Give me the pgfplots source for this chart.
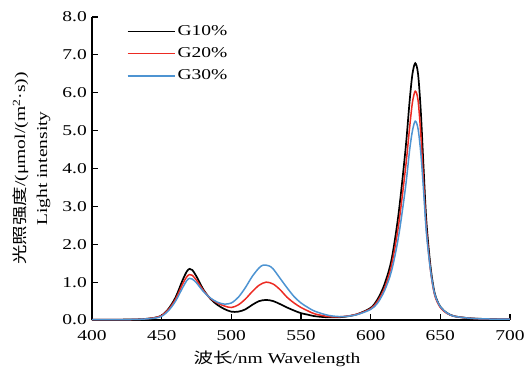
\documentclass[border=0pt]{standalone}
\usepackage{pgfplots}
\pgfplotsset{compat=1.18}
\usepackage{fontspec}
\setmainfont{Liberation Serif}[FakeStretch=1.3]
\newfontfamily\cjk{Noto Sans CJK SC}[FakeStretch=1.3]
\definecolor{cblack}{RGB}{0,0,0}
\definecolor{cred}{RGB}{236,42,34}
\definecolor{cblue}{RGB}{78,148,210}
\begin{document}
\fontsize{15}{18}\selectfont
\begin{tikzpicture}
\useasboundingbox (-92pt,-50pt) rectangle (434pt,320pt);
\begin{axis}[
  at={(0,0)}, anchor=south west,
  scale only axis, width=418pt, height=303pt,
  xmin=400, xmax=700, ymin=0, ymax=8,
  axis x line*=bottom, axis y line*=left,
  axis line style={-, line width=1.3pt},
  tick align=inside, major tick length=6pt,
  tick style={line width=1.2pt, black},
  xtick={400,450,...,700}, ytick={0,1,...,8},
  /pgf/number format/assume math mode=true,
  yticklabel style={/pgf/number format/.cd, fixed, fixed zerofill, precision=1},
  xticklabel style={yshift=-5pt, /pgf/number format/.cd, fixed, precision=0, 1000 sep={}},
  tick label style={font=\fontsize{15}{18}\selectfont},
  xlabel={{\cjk 波长}/nm Wavelength},
  xlabel style={font=\fontsize{15}{18}\selectfont, yshift=0pt, xshift=-24pt},
  ylabel={\begin{tabular}{c}{\cjk 光照强度}/(μmol/(m\textsuperscript{2}·s))\\[2pt] Light intensity\end{tabular}},
  ylabel style={font=\fontsize{15}{20}\selectfont, yshift=-1pt},
  legend style={at={(0.083,0.98)}, anchor=north west, draw=none, fill=none, font=\fontsize{15}{18}\selectfont, row sep=6pt, inner sep=0pt},
  legend cell align=left,
  legend image post style={xscale=2.75},
]
\addplot[cblack, line width=1.7pt, smooth] coordinates {
(400,0.01)(420,0.01)(435,0.02)(445,0.06)(450,0.12)(455,0.3)(460,0.6)(465,1.05)(468,1.28)(470,1.35)(472,1.32)(475,1.15)(480,0.8)(485,0.56)(490,0.4)(495,0.29)(500,0.22)(505,0.22)(510,0.28)(515,0.4)(520,0.5)(525,0.53)(530,0.5)(535,0.42)(540,0.33)(545,0.25)(550,0.18)(555,0.14)(560,0.1)(570,0.07)(580,0.08)(590,0.15)(600,0.32)(605,0.55)(610,0.95)(615,1.6)(620,2.8)(625,4.5)(628,5.8)(630,6.5)(632,6.78)(634,6.5)(636,5.5)(638,4.0)(640,2.6)(643,1.4)(646,0.7)(650,0.35)(655,0.18)(660,0.1)(670,0.05)(680,0.03)(700,0.02)
};
\addlegendentry{G10\%}
\addplot[cred, line width=1.5pt, smooth] coordinates {
(400,0.01)(420,0.01)(435,0.02)(445,0.06)(450,0.12)(455,0.28)(460,0.55)(465,0.95)(468,1.14)(470,1.2)(472,1.18)(475,1.05)(480,0.78)(485,0.57)(490,0.45)(495,0.37)(500,0.33)(505,0.4)(510,0.55)(515,0.75)(520,0.92)(525,1.0)(530,0.95)(535,0.8)(540,0.6)(545,0.45)(550,0.33)(555,0.24)(560,0.16)(570,0.09)(580,0.09)(590,0.15)(600,0.3)(605,0.5)(610,0.85)(615,1.45)(620,2.5)(625,4.0)(628,5.1)(630,5.75)(632,6.04)(634,5.8)(636,4.9)(638,3.6)(640,2.4)(643,1.3)(646,0.65)(650,0.33)(655,0.17)(660,0.1)(670,0.05)(680,0.03)(700,0.02)
};
\addlegendentry{G20\%}
\addplot[cblue, line width=1.5pt, smooth] coordinates {
(400,0.01)(420,0.01)(435,0.02)(445,0.05)(450,0.1)(455,0.25)(460,0.5)(465,0.85)(468,1.04)(470,1.1)(472,1.08)(475,0.98)(480,0.75)(485,0.58)(490,0.47)(495,0.42)(500,0.45)(505,0.6)(510,0.85)(515,1.15)(520,1.38)(523,1.45)(527,1.43)(530,1.35)(535,1.1)(540,0.85)(545,0.62)(550,0.45)(555,0.33)(560,0.23)(570,0.12)(580,0.09)(590,0.14)(600,0.28)(605,0.45)(610,0.78)(615,1.3)(620,2.2)(625,3.5)(628,4.5)(630,5.0)(632,5.25)(634,5.05)(636,4.4)(638,3.4)(640,2.3)(643,1.3)(646,0.68)(650,0.35)(655,0.18)(660,0.1)(670,0.05)(680,0.03)(700,0.02)
};
\addlegendentry{G30\%}
\end{axis}
\end{tikzpicture}
\end{document}
